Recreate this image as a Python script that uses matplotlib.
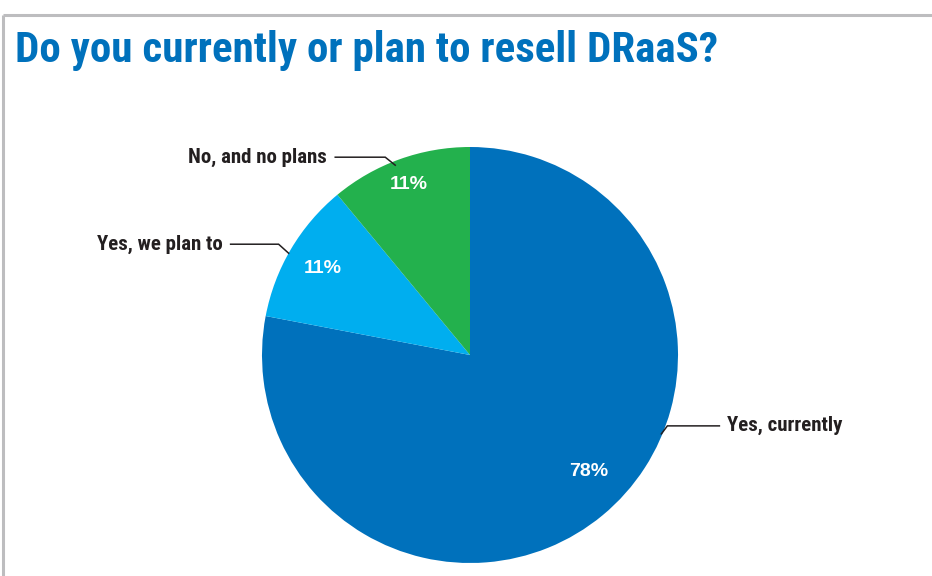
import numpy as np
import matplotlib
matplotlib.use("Agg")
import matplotlib.pyplot as plt

# Survey answers, clockwise from 12 o'clock
labels = ['Yes, currently', 'Yes, we plan to', 'No, and no plans']
shares = [78, 11, 11]
colors = ['#0071BC', '#00AEEF', '#23B14D']

W, H = 932, 576
fig = plt.figure(figsize=(W / 100, H / 100), dpi=100)
ax = fig.add_axes([0, 0, 1, 1])

cx, cy, r = 470, H - 355, 208

wedges, _ = ax.pie(shares, colors=colors, startangle=90, counterclock=False,
                   center=(cx, cy), radius=r, frame=True,
                   wedgeprops=dict(linewidth=0))
ax.set_xlim(0, W)
ax.set_ylim(0, H)
ax.set_aspect('equal')
ax.axis('off')

narrow = ['Roboto Condensed', 'DejaVu Sans']
dark = '#231F20'

# percentage labels inside each wedge
pct_dist = [0.80, 0.82, 0.87]
pct_shift = [6, 0, 0]
for w, val, d, s in zip(wedges, shares, pct_dist, pct_shift):
    mid = np.deg2rad((w.theta1 + w.theta2) / 2 + s)
    ax.text(cx + d * r * np.cos(mid), cy + d * r * np.sin(mid), f'{val}%',
            ha='center', va='center', color='white', fontsize=14,
            fontweight='bold', family=['Liberation Sans', 'DejaVu Sans'])

# leader lines: point on wedge edge -> elbow -> horizontal run -> text
callouts = [
    # (angle on edge, edge radius, elbow dx/dy, run length, side)
    (-22.4, 207, (6, 8), 52, 'right'),
    (150.7, 208, (-10, 9), 48, 'left'),
    (111.5, 204, (-10, 8), 50, 'left'),
]
for lab, (ang, er, (ex, ey), run, side) in zip(labels, callouts):
    a = np.deg2rad(ang)
    x0, y0 = cx + er * np.cos(a), cy + er * np.sin(a)
    x1, y1 = x0 + ex, y0 + ey
    x2 = x1 + run if side == 'right' else x1 - run
    ax.plot([x0, x1, x2], [y0, y1, y1], color=dark, lw=1.1,
            solid_joinstyle='miter')
    if side == 'right':
        ax.text(x2 + 8, y1, lab, ha='left', va='center', color=dark,
                fontsize=15, fontweight='bold', family=narrow)
    else:
        ax.text(x2 - 8, y1, lab, ha='right', va='center', color=dark,
                fontsize=15, fontweight='bold', family=narrow)

# title
ax.text(15, H - 62, 'Do you currently or plan to resell DRaaS?', ha='left',
        va='baseline', color='#0071BC', fontsize=31, fontweight='bold',
        family=narrow)

# gray frame along top and left
ax.plot([3, W], [H - 15, H - 15], color='#BDBDBF', lw=2.2, solid_capstyle='butt')
ax.plot([3, 3], [H - 15, 0], color='#BDBDBF', lw=2.2, solid_capstyle='butt')

fig.savefig('out.png', dpi=100)
